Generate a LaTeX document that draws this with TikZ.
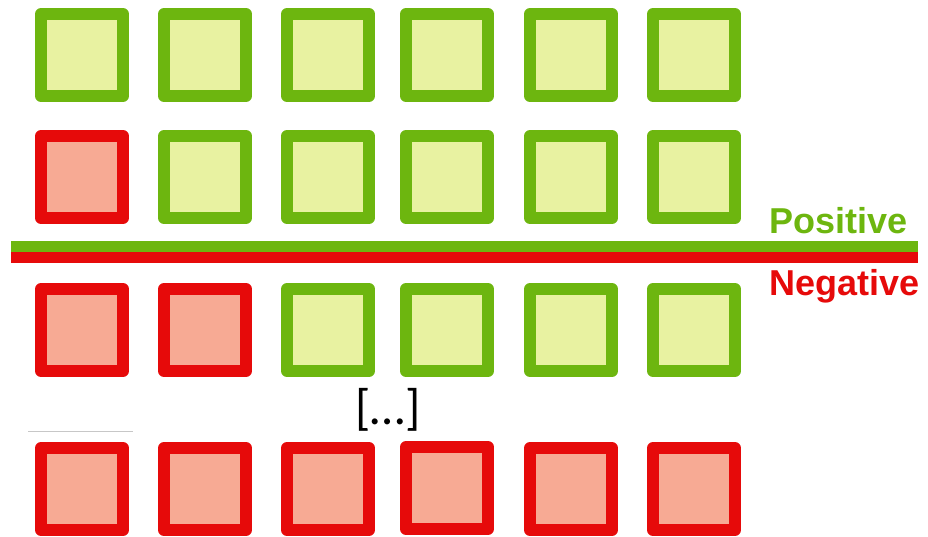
\documentclass[tikz,border=0pt]{standalone}
\usepackage{fontspec}
\setmainfont{Liberation Sans}
\newfontfamily\dotsfont{Carlito}
\definecolor{posline}{HTML}{6DB60F}
\definecolor{posfill}{HTML}{E8F2A1}
\definecolor{negline}{HTML}{E60A0A}
\definecolor{negfill}{HTML}{F7AA94}
\begin{document}
\begin{tikzpicture}[x=1pt, y=-1pt,
    box/.style={rectangle, minimum size=82pt, inner sep=0pt, line width=12pt, line join=round},
    posbox/.style={box, draw=posline, fill=posfill},
    negbox/.style={box, draw=negline, fill=negfill}]
                \useasboundingbox (0,0) rectangle (928,536);

                % first row
                \node (a1) at (82,55) [posbox] {};
                \node (a2) at (205,55) [posbox] {};
                \node (a3) at (328,55) [posbox] {};
                \node (a4) at (447,55) [posbox] {};
                \node (a5) at (571,55) [posbox] {};
                \node (a6) at (694,55) [posbox] {};

                % second row
                \node (b1) at (82,177) [negbox] {};
                \node (b2) at (205,177) [posbox] {};
                \node (b3) at (328,177) [posbox] {};
                \node (b4) at (447,177) [posbox] {};
                \node (b5) at (571,177) [posbox] {};
                \node (b6) at (694,177) [posbox] {};

                % threshold
                \draw[posline, line width=11pt] (11,246.5) -- (918,246.5);
                \draw[negline, line width=11pt] (11,257.5) -- (918,257.5);
                \node (pos) at (769,233) [anchor=base west, inner sep=0pt, text=posline, font=\fontsize{36}{40}\selectfont\bfseries] {Positive};
                \node (neg) at (769,295) [anchor=base west, inner sep=0pt, text=negline, font=\fontsize{36}{40}\selectfont\bfseries] {Negative};

                % third row
                \node (c1) at (82,330) [negbox] {};
                \node (c2) at (205,330) [negbox] {};
                \node (c3) at (328,330) [posbox] {};
                \node (c4) at (447,330) [posbox] {};
                \node (c5) at (571,330) [posbox] {};
                \node (c6) at (694,330) [posbox] {};

                \node (gap) at (388,424) [anchor=base, inner sep=0pt, font=\dotsfont\fontsize{50}{55}\selectfont] {[…]};
                \draw[black!22, line width=1pt] (28,431) -- (133,431);

                % last row
                \node (d1) at (82,489) [negbox] {};
                \node (d2) at (205,489) [negbox] {};
                \node (d3) at (328,489) [negbox] {};
                \node (d4) at (447,488) [negbox] {};
                \node (d5) at (571,489) [negbox] {};
                \node (d6) at (694,489) [negbox] {};
            \end{tikzpicture}
\end{document}
